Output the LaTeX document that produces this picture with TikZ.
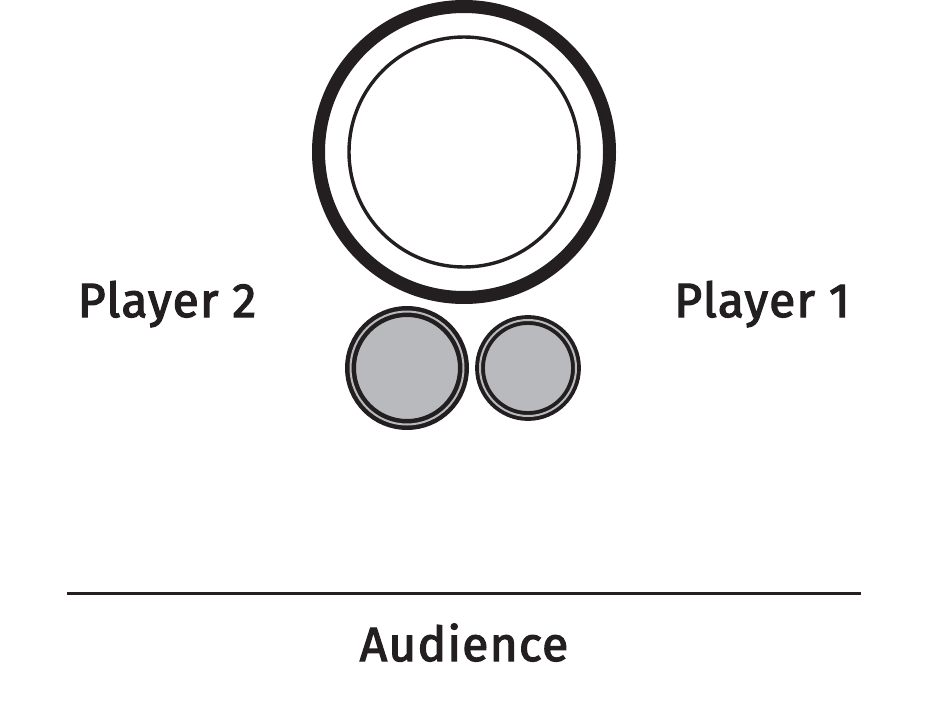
\documentclass[tikz,border=0pt]{standalone}
\usepackage{fontspec}
\setmainfont{Fira Sans}
\newfontfamily\stagefont[FakeBold=2.6, LetterSpace=2.5]{Fira Sans}
\usepackage{xcolor}
\usepackage{tikz}
\usetikzlibrary{
  positioning,
  calc
}
\definecolor{stInk}{HTML}{231F20}
\definecolor{stStone}{HTML}{B9BABD}
\tikzset{
  stnode/.style={
    circle, draw=stInk, inner sep=0pt, outer sep=0pt
  },
  house/.style={stnode, line width=13pt, minimum size=291pt},
  button/.style={stnode, line width=3.4pt, minimum size=230pt},
  stone/.style={
    stnode, fill=stStone, double=stStone, double distance=2pt
  },
  player/.style={font=\stagefont\fontsize{48}{50}\selectfont, text=stInk, anchor=base},
  stageline/.style={line width=3pt, stInk}
}

\begin{document}
\begin{tikzpicture}[x=1pt, y=-1pt]
  \useasboundingbox (0,0) rectangle (929,704);
  \node[house] (outer) at (464,152) {};
  \node[button] (inner) at (464,152) {};
  \node[stone, line width=4.5pt, minimum size=113pt] (stoneA) at (407,368) {};
  \node[stone, line width=3.9pt, minimum size=96pt] (stoneB) at (528,368) {};
  \node[player] (p2) at (167,317) {Player 2};
  \node[player] (p1) at (762,317) {Player 1};
  \coordinate (lineW) at (67,593);
  \coordinate (lineE) at (861,593);
  \draw[stageline] (lineW) -- (lineE);
  \node[player] (aud) at (464,661) {Audience};
\end{tikzpicture}
\end{document}
